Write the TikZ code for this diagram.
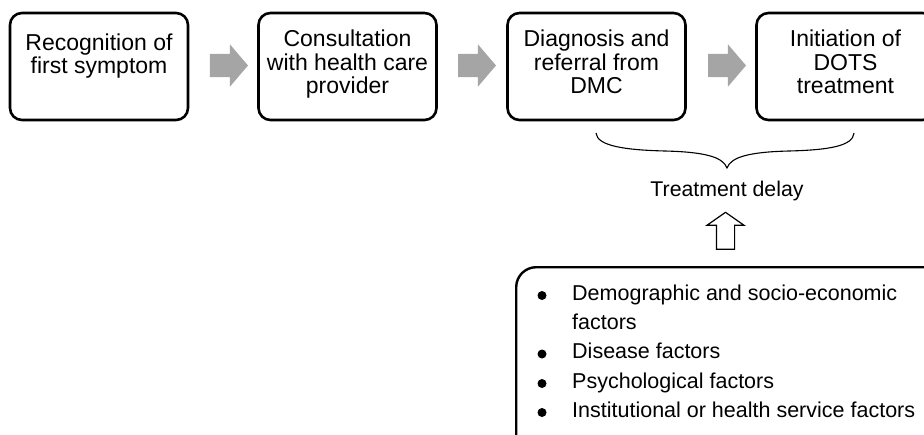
\documentclass[tikz,border=0pt]{standalone}
\usepackage{fontspec}
\setmainfont{Liberation Sans}
\usetikzlibrary{shapes.arrows}
\definecolor{arrowgray}{RGB}{165,165,165}
\newcommand{\TopStrut}{\rule{0pt}{17pt}}
\newcommand{\BotStrut}{\rule[-5pt]{0pt}{5pt}}
\begin{document}
\begin{tikzpicture}[x=1pt,y=-1pt,
  stepbox/.style={draw, line width=2.6pt, rounded corners=12pt, minimum width=178pt, minimum height=107pt, inner sep=0pt},
  steptext/.style={font=\fontsize{23}{23.5}\selectfont, align=center, inner sep=0pt},
  grayarrow/.style={single arrow, fill=arrowgray, draw=none, minimum height=38pt, minimum width=42pt,
    single arrow head extend=9.5pt, single arrow tip angle=99, single arrow head indent=0pt,
    inner sep=0pt, text height=23pt, text depth=0pt},
  hollowarrow/.style={single arrow, draw, line width=1.2pt, fill=white, minimum height=37pt, minimum width=36pt,
    single arrow head extend=9.5pt, single arrow tip angle=110, single arrow head indent=0pt,
    inner sep=0pt, text height=17pt, text depth=0pt, rotate=90},
  factorbox/.style={draw, line width=2.4pt, rounded corners=20pt, minimum width=440pt, minimum height=200pt, inner sep=0pt},
  listtext/.style={font=\fontsize{21.5}{29}\selectfont, inner sep=0pt, anchor=base west},
  bulletdot/.style={circle, fill=black, inner sep=0pt, minimum size=9pt},
  labeltext/.style={font=\fontsize{21.3}{25}\selectfont, inner sep=0pt, anchor=base}
]
\useasboundingbox (0,0) rectangle (924,434);
\clip (0,0) rectangle (924,434);

% step boxes
\node[stepbox] (b1) at (99,66.5) {};
\node[stepbox] (b2) at (347.5,66.5) {};
\node[stepbox] (b3) at (596.5,66.5) {};
\node[stepbox] (b4) at (845.5,66.5) {};

\node[steptext] (t1) at (99,56) {\TopStrut Recognition of\\first symptom\BotStrut};
\node[steptext] (t2) at (347.5,64) {\TopStrut Consultation\\with health care\\provider\BotStrut};
\node[steptext] (t3) at (596.5,64) {\TopStrut Diagnosis and\\referral from\\DMC\BotStrut};
\node[steptext] (t4) at (845.5,64) {\TopStrut Initiation of\\DOTS\\treatment\BotStrut};

% gray block arrows
\node[grayarrow] (a1) at (224,65.5) {};
\node[grayarrow] (a2) at (472,65.5) {};
\node[grayarrow] (a3) at (722,65.5) {};

% brace
\coordinate (brL) at (596,133);
\coordinate (brR) at (854,133);
\coordinate (brT) at (727,168);
\draw[line width=1.1pt] (brL) .. controls (597,146) and (625,150) .. (665,151)
  .. controls (705,152) and (723,157) .. (brT)
  .. controls (731,157) and (749,152) .. (789,151)
  .. controls (829,150) and (853,146) .. (brR);

\node[labeltext] (td) at (727,196) {Treatment delay};

% hollow up arrow
\node[hollowarrow] (ua) at (725.5,234) {};

% factor box
\node[factorbox, anchor=north west] (fb) at (515,266) {};

\node[bulletdot] (d1) at (542,295.5) {};
\node[bulletdot] (d2) at (542,354) {};
\node[bulletdot] (d3) at (542,383.5) {};
\node[bulletdot] (d4) at (542,412.5) {};

\node[listtext] (l1) at (572,300) {Demographic and socio-economic};
\node[listtext] (l1b) at (572,329) {factors};
\node[listtext] (l2) at (572,358.5) {Disease factors};
\node[listtext] (l3) at (572,388) {Psychological factors};
\node[listtext] (l4) at (572,417) {Institutional or health service factors};
\end{tikzpicture}
\end{document}
